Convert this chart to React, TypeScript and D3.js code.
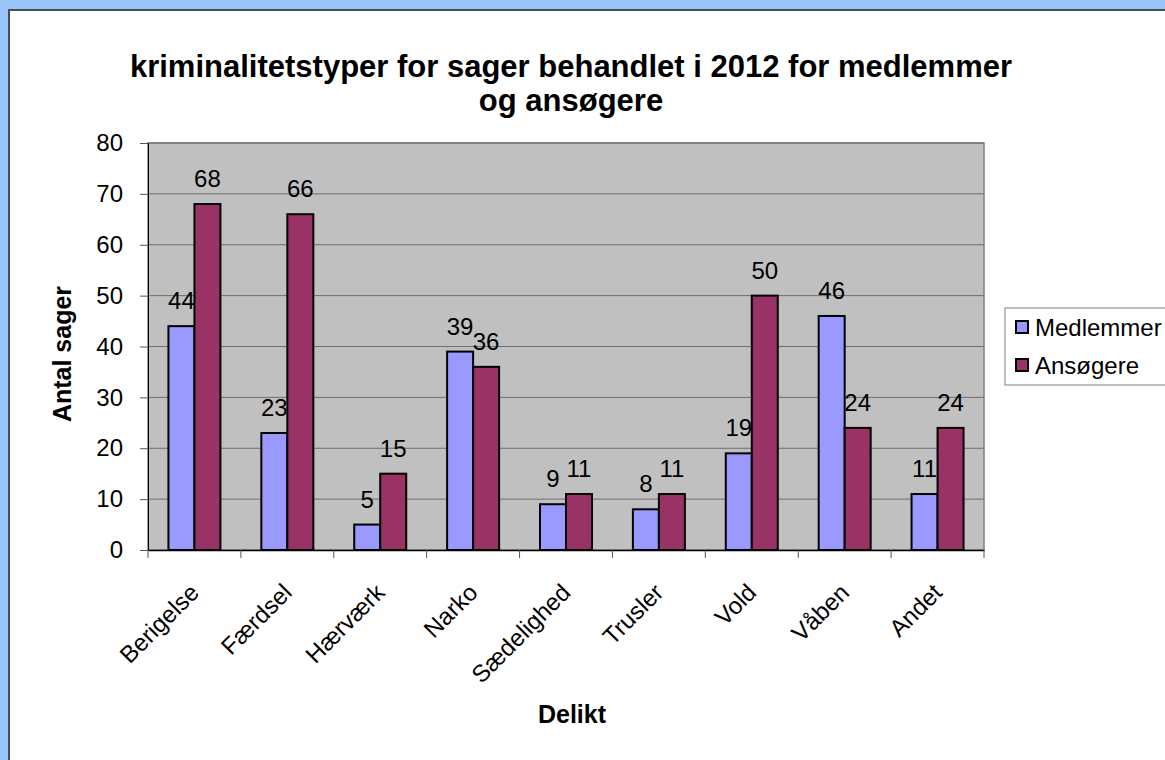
import { useRef, useEffect } from "react";
import * as d3 from "d3";

const categories = ["Berigelse", "Færdsel", "Hærværk", "Narko", "Sædelighed", "Trusler", "Vold", "Våben", "Andet"];
const seriesNames = ["Medlemmer", "Ansøgere"];
const medlemmer = [44, 23, 5, 39, 9, 8, 19, 46, 11];
const ansoegere = [68, 66, 15, 36, 11, 11, 50, 24, 24];
const yTicks = [0, 10, 20, 30, 40, 50, 60, 70, 80];
const colors = ["#9999ff", "#993366"];

const W = 1165;
const H = 760;
const font = "Arial, 'Liberation Sans', sans-serif";

const App = () => {
  const svgRef = useRef<SVGSVGElement>(null);

  useEffect(() => {
    const svg = d3.select(svgRef.current);
    svg.selectAll("*").remove();

    // page frame
    svg.append("rect").attr("width", W).attr("height", H).attr("fill", "#99c4f8");
    svg
      .append("rect")
      .attr("x", 9)
      .attr("y", 10)
      .attr("width", W)
      .attr("height", H)
      .attr("fill", "#fff")
      .attr("stroke", "#4a4e57")
      .attr("stroke-width", 2);

    const left = 148;
    const right = 984;
    const top = 143;
    const bottom = 550;

    const x = d3.scaleBand().domain(categories).range([left, right]);
    const xs = d3.scaleBand().domain(seriesNames).range([0, 52]);
    const y = d3.scaleLinear().domain([0, 80]).range([bottom, top]);

    // plot area
    svg
      .append("rect")
      .attr("x", left)
      .attr("y", top)
      .attr("width", right - left)
      .attr("height", bottom - top)
      .attr("fill", "#c0c0c0")
      .attr("stroke", "#808080")
      .attr("stroke-width", 1.5);

    // gridlines
    svg
      .append("g")
      .selectAll("line")
      .data(yTicks.slice(1))
      .join("line")
      .attr("x1", left)
      .attr("x2", right)
      .attr("y1", (d) => y(d))
      .attr("y2", (d) => y(d))
      .attr("stroke", "#6e6e6e")
      .attr("stroke-width", 1);

    // y axis
    const yAxis = d3.axisLeft(y).tickValues(yTicks).tickSize(8).tickPadding(17);
    const yg = svg.append("g").attr("transform", `translate(${left},0)`).call(yAxis);
    yg.select(".domain").attr("stroke", "#000");
    yg.selectAll(".tick line").attr("stroke", "#555");
    yg.selectAll(".tick text").attr("font-family", font).attr("font-size", 24).attr("fill", "#000");

    // x axis
    const xAxis = d3.axisBottom(x).tickSize(0).tickFormat(() => "");
    const xg = svg.append("g").attr("transform", `translate(0,${bottom})`).call(xAxis);
    xg.select(".domain").attr("stroke", "#000").attr("stroke-width", 1.5);
    svg
      .append("g")
      .selectAll("line")
      .data(d3.range(categories.length + 1))
      .join("line")
      .attr("x1", (i) => left + i * x.step())
      .attr("x2", (i) => left + i * x.step())
      .attr("y1", bottom)
      .attr("y2", bottom + 8)
      .attr("stroke", "#555");

    // category labels
    svg
      .append("g")
      .selectAll("text")
      .data(categories)
      .join("text")
      .attr("transform", (d) => `translate(${x(d)! + x.bandwidth() / 2 + 6},${bottom + 44}) rotate(-45)`)
      .attr("text-anchor", "end")
      .attr("font-family", font)
      .attr("font-size", 24)
      .text((d) => d);

    // bars
    const data = [medlemmer, ansoegere];
    seriesNames.forEach((s, si) => {
      const g = svg.append("g");
      const vals = data[si];
      g.selectAll("rect")
        .data(categories)
        .join("rect")
        .attr("x", (c) => x(c)! + (x.bandwidth() - 52) / 2 + xs(s)!)
        .attr("y", (c, i) => y(vals[i]))
        .attr("width", xs.bandwidth())
        .attr("height", (c, i) => bottom - y(vals[i]))
        .attr("fill", colors[si])
        .attr("stroke", "#000")
        .attr("stroke-width", 2);
      g.selectAll("text")
        .data(categories)
        .join("text")
        .attr("x", (c) => x(c)! + (x.bandwidth() - 52) / 2 + xs(s)! + xs.bandwidth() / 2)
        .attr("y", (c, i) => y(vals[i]) - 17)
        .attr("text-anchor", "middle")
        .attr("font-family", font)
        .attr("font-size", 24)
        .text((c, i) => vals[i]);
    });

    // title
    svg
      .append("text")
      .attr("text-anchor", "middle")
      .attr("font-family", font)
      .attr("font-size", 31)
      .attr("font-weight", "bold")
      .selectAll("tspan")
      .data(["kriminalitetstyper for sager behandlet i 2012 for medlemmer", "og ansøgere"])
      .join("tspan")
      .attr("x", 571)
      .attr("y", (d, i) => 77 + i * 34)
      .text((d) => d);

    // axis titles
    svg
      .append("text")
      .attr("transform", `translate(71,354) rotate(-90)`)
      .attr("text-anchor", "middle")
      .attr("font-family", font)
      .attr("font-size", 25)
      .attr("font-weight", "bold")
      .text("Antal sager");
    svg
      .append("text")
      .attr("x", 572)
      .attr("y", 723)
      .attr("text-anchor", "middle")
      .attr("font-family", font)
      .attr("font-size", 25)
      .attr("font-weight", "bold")
      .text("Delikt");

    // legend
    const lg = svg.append("g").attr("transform", "translate(1005,308)");
    lg.append("rect")
      .attr("width", 200)
      .attr("height", 77)
      .attr("fill", "#fff")
      .attr("stroke", "#808080")
      .attr("stroke-width", 1);
    seriesNames.forEach((s, i) => {
      const cy = 19 + i * 38;
      lg.append("rect")
        .attr("x", 11)
        .attr("y", cy - 6)
        .attr("width", 12)
        .attr("height", 12)
        .attr("fill", colors[i])
        .attr("stroke", "#000")
        .attr("stroke-width", 2);
      lg.append("text")
        .attr("x", 30)
        .attr("y", cy + 8.5)
        .attr("font-family", font)
        .attr("font-size", 24)
        .text(s);
    });
  }, []);

  return (
    <svg
      ref={svgRef}
      width={W}
      height={H}
      style={{ position: "fixed", left: 0, top: 0, display: "block" }}
    ></svg>
  );
};

export default App;
